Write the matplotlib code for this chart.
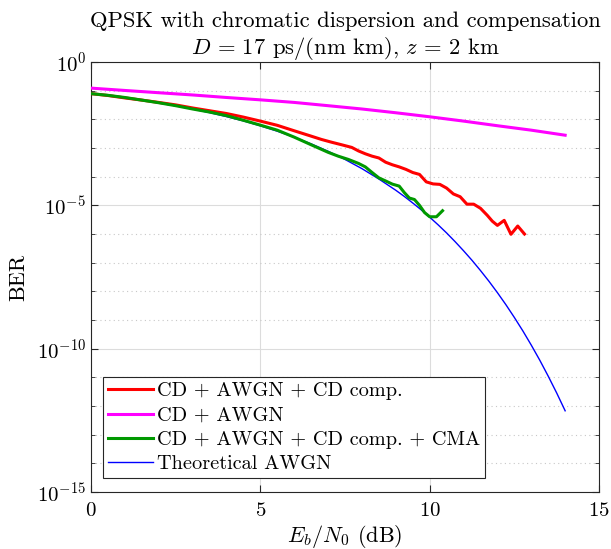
#!/usr/bin/env python3
"""BER curves for QPSK with chromatic dispersion, MATLAB-style look."""

import matplotlib

matplotlib.use("Agg")
import matplotlib.pyplot as plt
import matplotlib.ticker as mticker

# Theoretical AWGN
ebn0_theory = [0, 0.5, 1, 1.5, 2, 2.5, 3, 3.5, 4, 4.5, 5, 5.5, 6, 6.5, 7,
               7.5, 8, 8.5, 9, 9.25, 9.5, 9.75, 10, 10.25, 10.5, 10.75, 11,
               11.25, 11.5, 11.75, 12, 12.25, 12.5, 12.75, 13, 13.25, 13.5,
               13.75, 14]
ber_theory = [7.87e-2, 6.71e-2, 5.63e-2, 4.66e-2, 3.75e-2, 2.97e-2, 2.29e-2,
              1.72e-2, 1.25e-2, 8.83e-3, 5.95e-3, 3.87e-3, 2.39e-3, 1.40e-3,
              7.73e-4, 4.00e-4, 1.91e-4, 8.30e-5, 3.36e-5, 2.05e-5, 1.21e-5,
              6.97e-6, 3.87e-6, 2.09e-6, 1.09e-6, 5.43e-7, 2.61e-7, 1.21e-7,
              5.32e-8, 2.25e-8, 9.01e-9, 3.43e-9, 1.23e-9, 4.19e-10, 1.33e-10,
              3.98e-11, 1.10e-11, 2.85e-12, 6.81e-13]

# CD + AWGN (no compensation)
ebn0_cd = [0, 1, 2, 3, 4, 5, 6, 7, 8, 9, 10, 11, 12, 13, 14]
ber_cd = [0.123, 0.102, 0.085, 0.071, 0.058, 0.048, 0.039, 0.030, 0.023,
          0.017, 0.0123, 0.0087, 0.0060, 0.0042, 0.0028]

# CD + AWGN + CD comp.
ebn0_comp = [0, 0.5, 1, 1.5, 2, 2.5, 3, 3.5, 4, 4.5, 5, 5.5, 6, 6.5, 6.8,
             7.1, 7.4, 7.7, 7.9, 8.1, 8.3, 8.5, 8.7, 8.9, 9.1, 9.3, 9.5,
             9.7, 9.9, 10.1, 10.3, 10.5, 10.7, 10.9, 11.1, 11.3, 11.5, 11.7,
             11.85, 12.0, 12.2, 12.4, 12.6, 12.8]
ber_comp = [7.9e-2, 6.8e-2, 5.6e-2, 4.7e-2, 3.9e-2, 3.2e-2, 2.5e-2, 2.0e-2,
            1.6e-2, 1.2e-2, 8.7e-3, 6.2e-3, 4.0e-3, 2.6e-3, 2.0e-3, 1.6e-3,
            1.3e-3, 1.05e-3, 7.9e-4, 6.3e-4, 5.2e-4, 4.5e-4, 3.2e-4, 2.6e-4,
            2.2e-4, 1.8e-4, 1.4e-4, 1.2e-4, 6.6e-5, 5.6e-5, 5.4e-5, 4.0e-5,
            2.5e-5, 2.0e-5, 1.1e-5, 1.1e-5, 7.9e-6, 4.5e-6, 2.8e-6, 2.0e-6,
            3.0e-6, 9.8e-7, 1.9e-6, 1.0e-6]

# CD + AWGN + CD comp. + CMA
ebn0_cma = [0, 0.5, 1, 1.5, 2, 2.5, 3, 3.5, 4, 4.5, 5, 5.5, 6, 6.5, 7, 7.3,
            7.6, 7.9, 8.1, 8.3, 8.5, 8.7, 8.9, 9.1, 9.25, 9.4, 9.55, 9.7,
            9.85, 10.0, 10.2, 10.38]
ber_cma = [7.9e-2, 6.9e-2, 5.8e-2, 4.7e-2, 3.8e-2, 3.0e-2, 2.3e-2, 1.8e-2,
           1.35e-2, 9.3e-3, 6.3e-3, 4.2e-3, 2.4e-3, 1.3e-3, 7.1e-4, 5.2e-4,
           4.0e-4, 2.9e-4, 2.2e-4, 1.4e-4, 9.1e-5, 7.1e-5, 5.5e-5, 4.7e-5,
           2.8e-5, 1.8e-5, 1.6e-5, 1.0e-5, 5.6e-6, 4.0e-6, 4.0e-6, 6.5e-6]

plt.rcParams["font.family"] = ["cmr10", "DejaVu Serif"]
plt.rcParams["mathtext.fontset"] = "cm"
plt.rcParams["axes.formatter.use_mathtext"] = True

fig = plt.figure(figsize=(6.11, 5.49), dpi=100)
ax = fig.add_axes([0.1489, 0.1038, 0.8315, 0.7832])

h_th, = ax.semilogy(ebn0_theory, ber_theory, color=(0, 0, 1), lw=1.0, zorder=2)
h_comp, = ax.semilogy(ebn0_comp, ber_comp, color=(1, 0, 0), lw=2.2, zorder=3)
h_cd, = ax.semilogy(ebn0_cd, ber_cd, color=(1, 0, 1), lw=2.2, zorder=3)
h_cma, = ax.semilogy(ebn0_cma, ber_cma, color=(0, 0.6, 0), lw=2.2, zorder=4)

ax.set_xlim(0, 15)
ax.set_ylim(1e-15, 1e0)
ax.set_xticks([0, 5, 10, 15])
ax.yaxis.set_major_locator(mticker.FixedLocator([1e-15, 1e-10, 1e-5, 1e0]))
ax.yaxis.set_minor_locator(mticker.FixedLocator([10.0 ** k for k in range(-15, 1)]))
ax.yaxis.set_minor_formatter(mticker.NullFormatter())

ax.grid(True, which="major", color="#dcdcdc", lw=0.8, ls="-")
ax.yaxis.grid(True, which="minor", color="#c8c8c8", lw=0.8, ls=(0, (1, 3)))
ax.set_axisbelow(True)

for s in ax.spines.values():
    s.set_color("#262626")
    s.set_linewidth(0.8)
ax.tick_params(which="both", direction="in", top=True, right=True,
               colors="#262626", labelcolor="black", labelsize=15)
ax.tick_params(which="major", length=5)
ax.tick_params(which="minor", length=3)
ax.tick_params(axis="x", pad=7)

ax.set_xlabel(r"$E_b/N_0$ (dB)", fontsize=16, labelpad=2)
ax.set_ylabel("BER", fontsize=16, labelpad=6)
ax.set_title("QPSK with chromatic dispersion and compensation\n"
             r"$D\,=\,17$ ps/(nm km), $z\,=\,2$ km", fontsize=16.3, pad=6,
             linespacing=1.2)

leg = ax.legend([h_comp, h_cd, h_cma, h_th],
                ["CD + AWGN + CD comp.", "CD + AWGN",
                 "CD + AWGN + CD comp. + CMA", "Theoretical AWGN"],
                loc="lower left", bbox_to_anchor=(0.024, 0.032),
                fontsize=14.6, fancybox=False, framealpha=1,
                edgecolor="#262626", handlelength=2.2, handletextpad=0.2,
                borderpad=0.25, labelspacing=0.3, borderaxespad=0)
leg.get_frame().set_linewidth(0.8)

fig.savefig("out.png", dpi=100)
